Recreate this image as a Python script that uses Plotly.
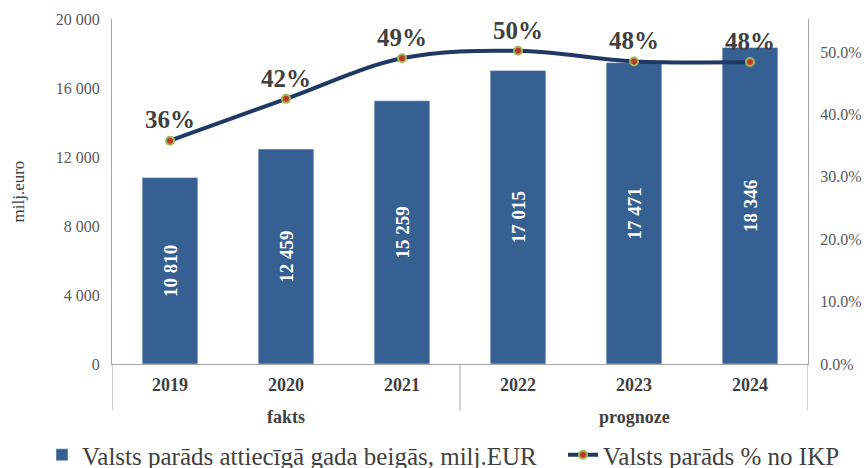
import plotly.graph_objects as go

years = ["2019", "2020", "2021", "2022", "2023", "2024"]
groups = ["fakts", "prognoze"]
debt = [10810, 12459, 15259, 17015, 17471, 18346]
debt_labels = ["10 810", "12 459", "15 259", "17 015", "17 471", "18 346"]
pct = [0.358, 0.425, 0.49, 0.502, 0.485, 0.484]
pct_labels = ["36%", "42%", "49%", "50%", "48%", "48%"]
left_ticks = [0, 4000, 8000, 12000, 16000, 20000]
left_ticktext = ["0", "4 000", "8 000", "12 000", "16 000", "20 000"]
right_ticks = [0, 0.1, 0.2, 0.3, 0.4, 0.5]
right_ticktext = ["0.0%", "10.0%", "20.0%", "30.0%", "40.0%", "50.0%"]

FONT = "Liberation Serif"
GRAY = "#404040"
W, H = 864, 468

fig = go.Figure()
fig.add_trace(go.Bar(
    x=years, y=debt, name="Valsts parāds attiecīgā gada beigās, milj.EUR",
    marker=dict(color="#376092"), width=0.48, legend="legend",
    text=debt_labels, textposition="inside", insidetextanchor="middle",
    textangle=-90, textfont=dict(family=FONT, size=19, color="white"),
    texttemplate="<b>%{text}</b>", cliponaxis=False,
))
fig.add_trace(go.Scatter(
    x=years, y=pct, yaxis="y2", name="Valsts parāds % no IKP", legend="legend2",
    mode="lines+markers+text", line=dict(color="#1F3864", width=4, shape="spline"),
    marker=dict(color="#C0392B", size=8, line=dict(color="#9BBB59", width=2)),
    text=pct_labels, texttemplate="<b>%{text}</b>", textposition="top center",
    textfont=dict(family=FONT, size=25, color=GRAY), cliponaxis=False,
))

legend_common = dict(orientation="h", xref="container", yref="container",
                     xanchor="left", y=1 - 455 / H, yanchor="middle",
                     font=dict(family=FONT, size=25, color=GRAY), itemwidth=30,
                     bgcolor="rgba(0,0,0,0)")

fig.update_layout(
    width=W, height=H,
    margin=dict(l=112, r=56, t=19, b=104, autoexpand=False),
    paper_bgcolor="white", plot_bgcolor="white",
    font=dict(family=FONT, color=GRAY),
    showlegend=True,
    legend=dict(legend_common, x=42 / W),
    legend2=dict(legend_common, x=563 / W),
    xaxis=dict(type="category", showline=True, linecolor="#A6A6A6", linewidth=1,
               tickfont=dict(family=FONT, size=18, color=GRAY), automargin=False,
               tickprefix="<b>", ticksuffix="</b>", ticks="", showgrid=False,
               ticklabelstandoff=4, range=[-0.5, 5.5]),
    yaxis=dict(range=[0, 20000], tickvals=left_ticks, ticktext=left_ticktext,
               showline=True, linecolor="#A6A6A6", showgrid=False, ticks="",
               automargin=False, ticklabelstandoff=8,
               tickfont=dict(family=FONT, size=16, color="#595959")),
    yaxis2=dict(range=[0, 0.553], overlaying="y", side="right", tickvals=right_ticks,
                ticktext=right_ticktext, showline=True, linecolor="#A6A6A6",
                showgrid=False, ticks="", automargin=False, ticklabelstandoff=8,
                tickfont=dict(family=FONT, size=16, color="#595959")),
)

fig.add_annotation(x=(18 - 112) / 696, xref="paper", xanchor="center", y=0.5, yref="paper",
                   text="milj.euro", textangle=-90, showarrow=False,
                   font=dict(family=FONT, size=17, color=GRAY))

for xpos in [-0.5, 2.5, 5.5]:
    fig.add_shape(type="line", xref="x", yref="paper", x0=xpos, x1=xpos, y0=0, y1=-0.135,
                  line=dict(color="#A6A6A6", width=1))

for g, xc in zip(groups, [1, 4]):
    fig.add_annotation(x=xc, xref="x", y=-0.154, yref="paper", yanchor="middle",
                       text=f"<b>{g}</b>", showarrow=False,
                       font=dict(family=FONT, size=18, color=GRAY))

fig.write_html("out.html", config={"displayModeBar": False},
               post_script="document.body.style.margin='0px';")
